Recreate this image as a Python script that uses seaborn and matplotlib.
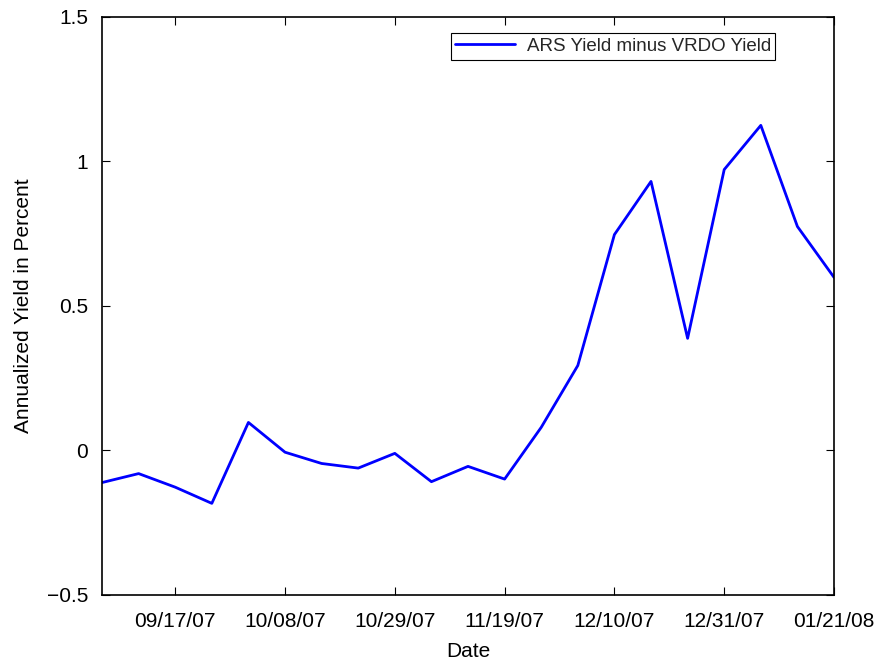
import pandas as pd
import matplotlib
matplotlib.use("Agg")
import matplotlib.pyplot as plt
import matplotlib.dates as mdates
import seaborn as sns

# weekly observations, ARS minus VRDO spread
dates = ["2007-09-03", "2007-09-10", "2007-09-17", "2007-09-24", "2007-10-01",
         "2007-10-08", "2007-10-15", "2007-10-22", "2007-10-29", "2007-11-05",
         "2007-11-12", "2007-11-19", "2007-11-26", "2007-12-03", "2007-12-10",
         "2007-12-17", "2007-12-24", "2007-12-31", "2008-01-07", "2008-01-14",
         "2008-01-21"]
spread = [-0.111, -0.080, -0.127, -0.183, 0.097,
          -0.006, -0.045, -0.061, -0.010, -0.108,
          -0.055, -0.099, 0.080, 0.294, 0.747,
          0.931, 0.388, 0.972, 1.125, 0.775,
          0.599]
tick_dates = ["2007-09-17", "2007-10-08", "2007-10-29", "2007-11-19",
              "2007-12-10", "2007-12-31", "2008-01-21"]
y_ticks = [-0.5, 0, 0.5, 1, 1.5]

df = pd.DataFrame({"Date": pd.to_datetime(dates), "Spread": spread})

sns.set_style("ticks")
plt.rcParams["font.family"] = ["Liberation Sans", "DejaVu Sans"]

fig = plt.figure(figsize=(8.78, 6.63), dpi=100)
ax = fig.add_axes([0.1162, 0.1026, 0.8337, 0.8718])

sns.lineplot(data=df, x="Date", y="Spread", color="#0000ff", linewidth=2,
             label="ARS Yield minus VRDO Yield", ax=ax)

ax.set_xlim(pd.Timestamp("2007-09-03"), pd.Timestamp("2008-01-21"))
ax.set_ylim(-0.5, 1.5)
ax.set_xticks(pd.to_datetime(tick_dates))
ax.xaxis.set_major_formatter(mdates.DateFormatter("%m/%d/%y"))
ax.set_yticks(y_ticks)
ax.set_yticklabels(["\u22120.5", "0", "0.5", "1", "1.5"])

ax.tick_params(direction="in", top=True, right=True, length=6, width=0.8,
               labelsize=15, pad=10, colors="black")
ax.tick_params(axis="x", pad=12)
for s in ax.spines.values():
    s.set_visible(True)
    s.set_linewidth(1.2)
    s.set_color("black")

ax.set_xlabel("Date", fontsize=15, color="black", labelpad=8)
ax.set_ylabel("Annualized Yield in Percent", fontsize=15, color="black", labelpad=10)

leg = ax.legend(loc="upper right", bbox_to_anchor=(0.92, 0.972), borderaxespad=0,
                fontsize=13.5, fancybox=False, framealpha=1, handlelength=3.2,
                borderpad=0.25, handletextpad=0.6)
leg.get_frame().set_edgecolor("black")
leg.get_frame().set_linewidth(0.8)

fig.savefig("out.png", dpi=100)
